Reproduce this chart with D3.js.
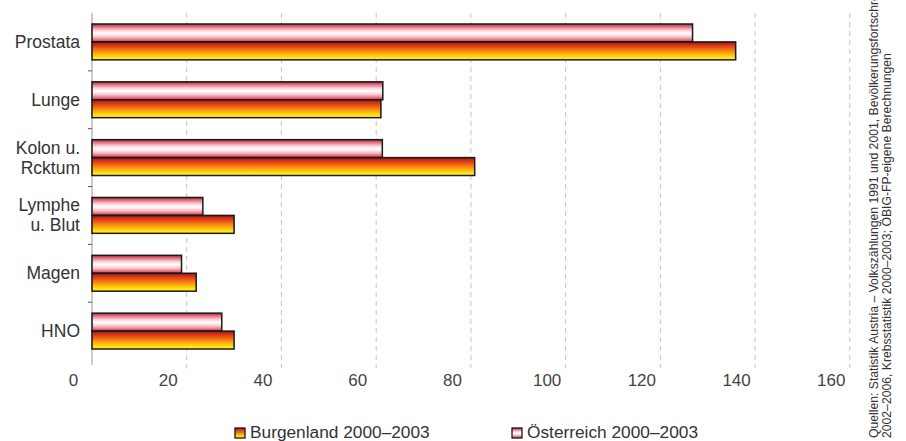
<!DOCTYPE html>
<html>
<head>
<meta charset="utf-8">
<script src="https://cdn.jsdelivr.net/npm/d3@7"></script>
<style>
  html, body { margin: 0; padding: 0; background: #fff; }
  svg { display: block; }
</style>
</head>
<body>
<svg id="chart" width="906" height="441"></svg>
<script>
// Krebsinzidenz je Lokalisation: Burgenland vs. Österreich
const categories = ["Prostata", "Lunge", "Kolon u.\nRcktum", "Lymphe\nu. Blut", "Magen", "HNO"];
const seriesNames = ["Österreich 2000–2003", "Burgenland 2000–2003"];
const oesterreich = [126.8, 61.4, 61.3, 23.4, 18.9, 27.4];
const burgenland = [135.9, 61.0, 80.8, 30.0, 22.0, 30.0];
const tickValues = [0, 20, 40, 60, 80, 100, 120, 140, 160];
const sourceLines = [
  "Quellen: Statistik Austria – Volkszählungen 1991 und 2001, Bevölkerungsfortschreibung",
  "2002–2006, Krebsstatistik 2000–2003; ÖBIG-FP-eigene Berechnungen"
];

const svg = d3.select("#chart");
const defs = svg.append("defs");

// vertical gradients for the two series
const gB = defs.append("linearGradient").attr("id", "gradB")
  .attr("x1", 0).attr("y1", 0).attr("x2", 0).attr("y2", 1);
[[0, "#6e1408"], [0.12, "#c8281a"], [0.35, "#ee5a14"], [0.6, "#f9a010"], [0.85, "#ffe010"], [1, "#fff41c"]]
  .forEach(([o, c]) => gB.append("stop").attr("offset", o).attr("stop-color", c));
const gO = defs.append("linearGradient").attr("id", "gradO")
  .attr("x1", 0).attr("y1", 0).attr("x2", 0).attr("y2", 1);
[[0, "#a02838"], [0.15, "#e0707e"], [0.35, "#fbd0d8"], [0.52, "#ffffff"], [0.72, "#f8c4cc"], [0.9, "#e06878"], [1, "#b83848"]]
  .forEach(([o, c]) => gO.append("stop").attr("offset", o).attr("stop-color", c));

const x = d3.scaleLinear().domain([0, 160]).range([92, 849.8]);
const y = d3.scaleBand().domain(categories).range([13, 360])
  .paddingInner(0.38).paddingOuter(0.19);
const ySub = d3.scaleBand().domain(seriesNames).range([0, y.bandwidth()]);

// dashed grid lines
svg.append("g").selectAll("line")
  .data(tickValues.filter(d => d > 0))
  .join("line")
  .attr("x1", d => x(d)).attr("x2", d => x(d))
  .attr("y1", 13).attr("y2", 368)
  .attr("stroke", "#c4c4c4").attr("stroke-width", 1)
  .attr("stroke-dasharray", "5,4");

// value axis labels
const xAxis = svg.append("g").attr("transform", "translate(0,370)")
  .call(d3.axisBottom(x).tickValues(tickValues).tickSize(0).tickPadding(4));
xAxis.select(".domain").remove();
xAxis.selectAll("text")
  .attr("dx", -19)
  .attr("font-family", "'Liberation Sans Narrow', 'Arial Narrow', 'Liberation Sans', Arial, sans-serif")
  .attr("font-size", 17)
  .attr("fill", "#444");

// category axis line and separator ticks
svg.append("line")
  .attr("x1", 92).attr("x2", 92).attr("y1", 13).attr("y2", 365)
  .attr("stroke", "#a8a8a8").attr("stroke-width", 1.2);
const step = y.step();
svg.append("g").selectAll("line")
  .data(d3.range(1, categories.length))
  .join("line")
  .attr("x1", 88).attr("x2", 92)
  .attr("y1", i => 13 + i * step).attr("y2", i => 13 + i * step)
  .attr("stroke", "#555").attr("stroke-width", 1);

// bars
const rows = categories.map((c, i) => ({ cat: c, vals: [oesterreich[i], burgenland[i]] }));
const grp = svg.append("g").selectAll("g").data(rows).join("g")
  .attr("transform", d => `translate(0,${y(d.cat)})`);
grp.selectAll("rect")
  .data(d => d.vals.map((v, k) => ({ name: seriesNames[k], v })))
  .join("rect")
  .attr("x", x(0))
  .attr("y", d => ySub(d.name))
  .attr("width", d => x(d.v) - x(0))
  .attr("height", ySub.bandwidth())
  .attr("fill", d => d.name === seriesNames[1] ? "url(#gradB)" : "url(#gradO)")
  .attr("stroke", "#1a1a1a").attr("stroke-width", 1.5);

// category labels
const lab = svg.append("g").selectAll("text").data(categories).join("text")
  .attr("text-anchor", "end")
  .attr("font-family", "'Liberation Sans', Arial, sans-serif")
  .attr("font-size", 17.5)
  .attr("fill", "#333");
lab.each(function (d) {
  const lines = d.split("\n");
  const cy = y(d) + y.bandwidth() / 2;
  const lh = 20;
  const t = d3.select(this);
  lines.forEach((ln, i) => {
    t.append("tspan")
      .attr("x", 80)
      .attr("y", cy + (i - (lines.length - 1) / 2) * lh + 6)
      .text(ln);
  });
});

// legend
const legend = [
  { name: seriesNames[1], fill: "url(#gradB)", x: 235 },
  { name: seriesNames[0], fill: "url(#gradO)", x: 512 }
];
const lg = svg.append("g").selectAll("g").data(legend).join("g")
  .attr("transform", d => `translate(${d.x},428)`);
lg.append("rect").attr("width", 10).attr("height", 10)
  .attr("fill", d => d.fill).attr("stroke", "#1a1a1a").attr("stroke-width", 1.3);
lg.append("text").attr("x", 15).attr("y", 10)
  .attr("font-family", "'Liberation Sans', Arial, sans-serif")
  .attr("font-size", 17.3).attr("fill", "#333")
  .text(d => d.name);

// rotated source note
svg.append("g").selectAll("text").data(sourceLines).join("text")
  .attr("transform", (d, i) => `translate(${878 + i * 13},438) rotate(-90)`)
  .attr("font-family", "'Liberation Sans', Arial, sans-serif")
  .attr("font-size", 12.2).attr("fill", "#333")
  .text(d => d);
</script>
</body>
</html>
